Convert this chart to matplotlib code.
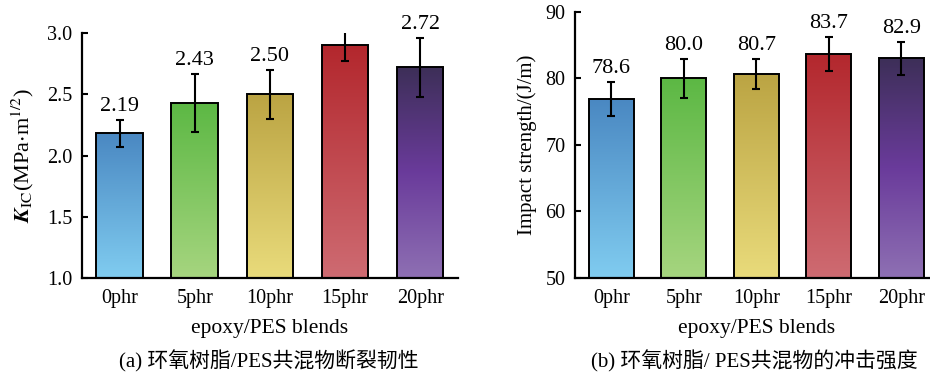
import matplotlib.pyplot as plt
import numpy as np
from matplotlib.colors import LinearSegmentedColormap

# data
categories = ['0phr', '5phr', '10phr', '15phr', '20phr']

kic_bar = [2.18, 2.43, 2.50, 2.90, 2.72]
kic_err = [0.11, 0.235, 0.20, 0.125, 0.24]
kic_text = ['2.19', '2.43', '2.50', '2.90', '2.72']

imp_bar = [76.9, 80.0, 80.7, 83.7, 83.0]
imp_err = [2.6, 2.9, 2.25, 2.55, 2.45]
imp_text = ['78.6', '80.0', '80.7', '83.7', '82.9']

# top -> bottom gradient colours per bar
grad = [
    ['#4a88c2', '#80ccf0'],
    ['#5cb844', '#a6d57f'],
    ['#bba443', '#e9db7b'],
    ['#b3272d', '#ce6b72'],
    ['#3d2f58', '#6a3b9b', '#8e70b3'],
]

plt.rcParams['font.family'] = ['Liberation Serif', 'Noto Sans CJK SC']
plt.rcParams['mathtext.fontset'] = 'stix'

fig = plt.figure(figsize=(9.3, 3.79), dpi=100)
ax1 = fig.add_axes([0.0882, 0.2665, 0.404, 0.6464])
ax2 = fig.add_axes([0.6183, 0.2665, 0.390, 0.702])


def draw(ax, vals, errs, texts, ylim, yticks):
    x = np.arange(len(categories))
    bars = ax.bar(x, vals, width=0.62, bottom=0, color='none',
                  edgecolor='black', linewidth=1.4, zorder=3)
    for b, cols in zip(bars, grad):
        cmap = LinearSegmentedColormap.from_list('g', cols[::-1])
        x0 = b.get_x()
        im = ax.imshow(np.linspace(0, 1, 256).reshape(-1, 1), cmap=cmap,
                       origin='lower', aspect='auto',
                       extent=(x0, x0 + b.get_width(), ylim[0], b.get_height()),
                       zorder=2)
        im.set_clip_path(b)
    ax.errorbar(x, vals, yerr=errs, fmt='none', ecolor='black',
                elinewidth=1.5, capsize=3, capthick=1.5, zorder=4)
    for xi, v, e, t in zip(x, vals, errs, texts):
        ax.annotate(t, (xi, v + e), xytext=(0, 3), textcoords='offset points',
                    ha='center', va='bottom', fontsize=16)
    ax.set_xlim(-0.5, 4.5)
    ax.set_ylim(*ylim)
    ax.set_yticks(yticks)
    ax.set_xticks(x)
    ax.set_xticklabels(categories)
    ax.spines['top'].set_visible(False)
    ax.spines['right'].set_visible(False)
    for s in ('left', 'bottom'):
        ax.spines[s].set_linewidth(1.6)
    ax.tick_params(direction='in', length=4, width=1.5, labelsize=14.5)
    ax.tick_params(axis='x', pad=8)
    ax.tick_params(axis='y', pad=7)
    ax.set_xlabel('epoxy/PES blends', fontsize=15.5, labelpad=8)


draw(ax1, kic_bar, kic_err, kic_text, (1.0, 3.0), [1.0, 1.5, 2.0, 2.5, 3.0])
ax1.yaxis.set_major_formatter(plt.FormatStrFormatter('%.1f'))
ax1.set_ylabel(r'$\boldsymbol{K}_{\mathrm{IC}}$(MPa$\cdot$m$^{1/2}$)',
               fontsize=16, labelpad=8)

draw(ax2, imp_bar, imp_err, imp_text, (50, 90), [50, 60, 70, 80, 90])
ax2.set_ylabel('Impact strength/(J/m)', fontsize=15, labelpad=6)

fig.text(0.289, 0.047, '(a) 环氧树脂/PES共混物断裂韧性', ha='center', va='center',
         fontsize=15)
fig.text(0.811, 0.047, '(b) 环氧树脂/ PES共混物的冲击强度', ha='center', va='center',
         fontsize=15)

fig.savefig('out.png', dpi=100)
